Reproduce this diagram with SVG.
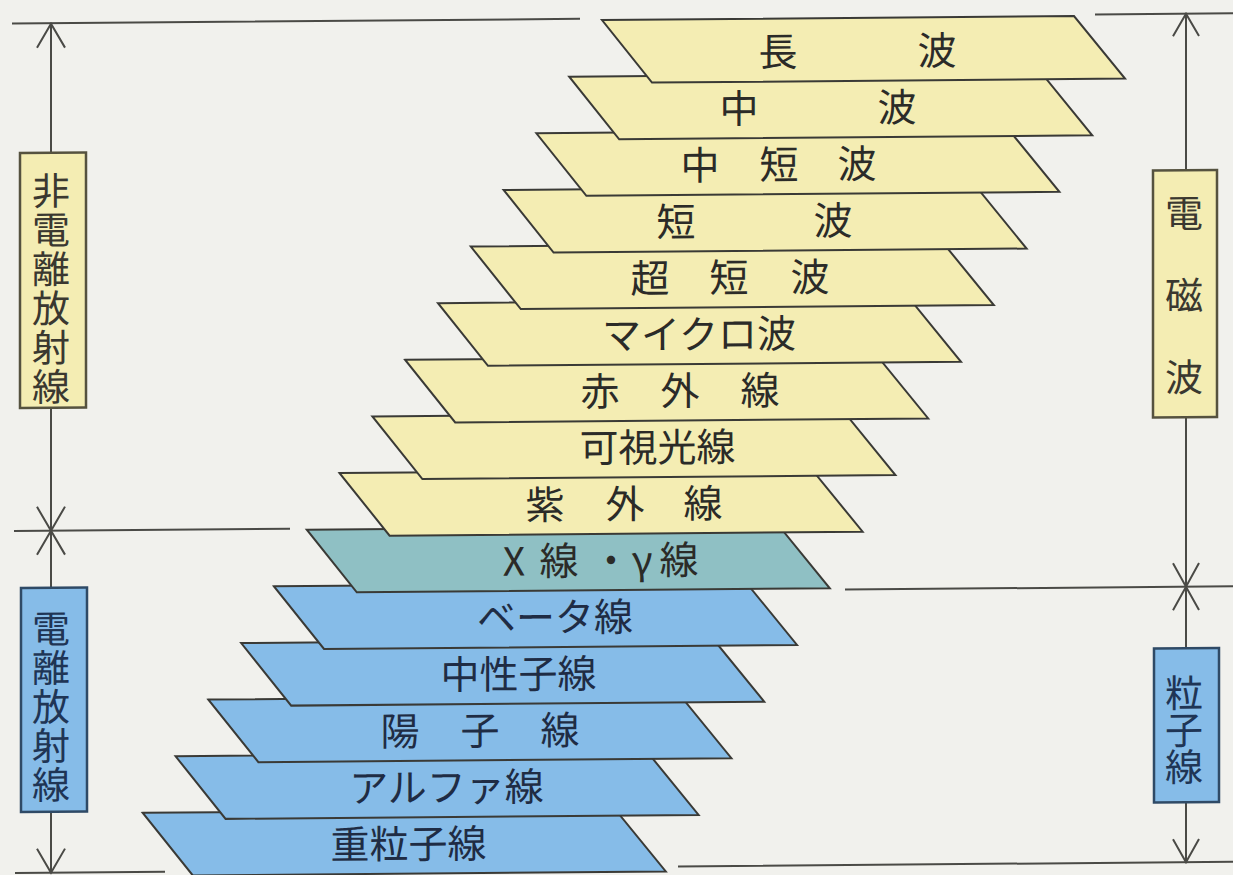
<svg xmlns="http://www.w3.org/2000/svg" width="1233" height="875" viewBox="0 0 1233 875">
<style>
.bg{fill:#f1f1ed}
.para{stroke:#3a3a36;stroke-width:2;stroke-linejoin:miter}
.y{fill:#f4edb3}
.t{fill:#8fc0c4}
.b{fill:#86bce8}
.lbl{font-family:"Noto Sans CJK JP","Noto Sans CJK SC",sans-serif;font-size:39px;fill:#2b2b28;text-anchor:middle}
.lblb{fill:#1f2c44}
.side{font-family:"Noto Sans CJK JP","Noto Sans CJK SC",sans-serif;font-size:38px;fill:#3a3830;text-anchor:middle}
.sideb{fill:#1f3555}
.boxy{fill:#f4edb3;stroke:#55523f;stroke-width:2.5}
.boxb{fill:#86bce8;stroke:#2f4a66;stroke-width:2.5}
.ln{fill:none;stroke:#4a4a46;stroke-width:2}
</style>
<defs>
<path id="para" d="M0 0 H472 L523 63 H50 Z"/>
</defs>
<rect class="bg" x="0" y="0" width="1233" height="875"/>
<g transform="matrix(1,-0.0084,0,1,0,5.17)">
<g id="connectors">
<path class="ln" d="M12 18.5 H580 M1095 18.5 H1233 M14 526 H290 M845 591.5 H1233 M15 868 H165 M678 867 H1233"/>
<path class="ln" d="M51 18.5 V148 M51 403 V583 M51 807 V868"/>
<path class="ln" d="M37 43 L51 19 L65 43 M37 502 L51 526 L65 502 M37 550 L51 526 L65 550 M37 844 L51 868 L65 844"/>
<path class="ln" d="M1186 18.5 V175 M1186 422 V653 M1186 807 V867"/>
<path class="ln" d="M1173 41 L1186 18.5 L1199 41 M1173 568 L1186 591.5 L1199 568 M1173 615 L1186 591.5 L1199 615 M1173 844 L1186 867 L1199 844"/>
</g>
<g id="row14"><use href="#para" class="para b" x="142.8" y="808.9"/><text class="lbl lblb" x="408.5" y="856.5">重粒子線</text></g>
<g id="row13"><use href="#para" class="para b" x="175.6" y="752.6"/><text class="lbl lblb" x="446.5" y="800.2">アルファ線</text></g>
<g id="row12"><use href="#para" class="para b" x="208.4" y="696.2"/><text class="lbl lblb" x="400 480 560" y="743.8">陽子線</text></g>
<g id="row11"><use href="#para" class="para b" x="241.2" y="639.9"/><text class="lbl lblb" x="518.5" y="687.5">中性子線</text></g>
<g id="row10"><use href="#para" class="para b" x="274" y="583.5"/><text class="lbl lblb" x="555" y="631.1">ベータ線</text></g>
<g id="row9"><use href="#para" class="para t" x="306.8" y="527.1"/><text class="lbl" x="514 559 611 642 679" y="574.7">X線・γ線</text></g>
<g id="row8"><use href="#para" class="para y" x="339.6" y="470.8"/><text class="lbl" x="545 625 703" y="518.4">紫外線</text></g>
<g id="row7"><use href="#para" class="para y" x="372.4" y="414.4"/><text class="lbl" x="657.5" y="462">可視光線</text></g>
<g id="row6"><use href="#para" class="para y" x="405.2" y="358.1"/><text class="lbl" x="600 680 760" y="405.7">赤外線</text></g>
<g id="row5"><use href="#para" class="para y" x="438" y="301.7"/><text class="lbl" x="699" y="349.3">マイクロ波</text></g>
<g id="row4"><use href="#para" class="para y" x="470.8" y="245.3"/><text class="lbl" x="650 729 810" y="292.9">超短波</text></g>
<g id="row3"><use href="#para" class="para y" x="503.6" y="189"/><text class="lbl" x="676 833" y="236.6">短波</text></g>
<g id="row2"><use href="#para" class="para y" x="536.4" y="132.6"/><text class="lbl" x="700 779 857" y="180.2">中短波</text></g>
<g id="row1"><use href="#para" class="para y" x="569.2" y="76.3"/><text class="lbl" x="739 897" y="123.9">中波</text></g>
<g id="row0"><use href="#para" class="para y" x="602" y="19.9"/><text class="lbl" x="778 937" y="67.5">長波</text></g>
<g id="label-non-ionizing"><rect class="boxy" x="20" y="148" width="66" height="255"/><text class="side" x="51 51 51 51 51 51" y="200 239.2 278.4 317.6 356.8 396">非電離放射線</text></g>
<g id="label-ionizing"><rect class="boxb" x="21" y="583" width="66" height="224"/><text class="side sideb" x="51 51 51 51 51" y="638 677 716 755 794">電離放射線</text></g>
<g id="label-em-wave"><rect class="boxy" x="1153" y="175" width="64" height="247"/><text class="side" x="1184 1184 1184" y="232 314 396">電磁波</text></g>
<g id="label-particle"><rect class="boxb" x="1154" y="653" width="65" height="154"/><text class="side sideb" x="1184 1184 1184" y="712 749 786">粒子線</text></g>
</g>
</svg>
